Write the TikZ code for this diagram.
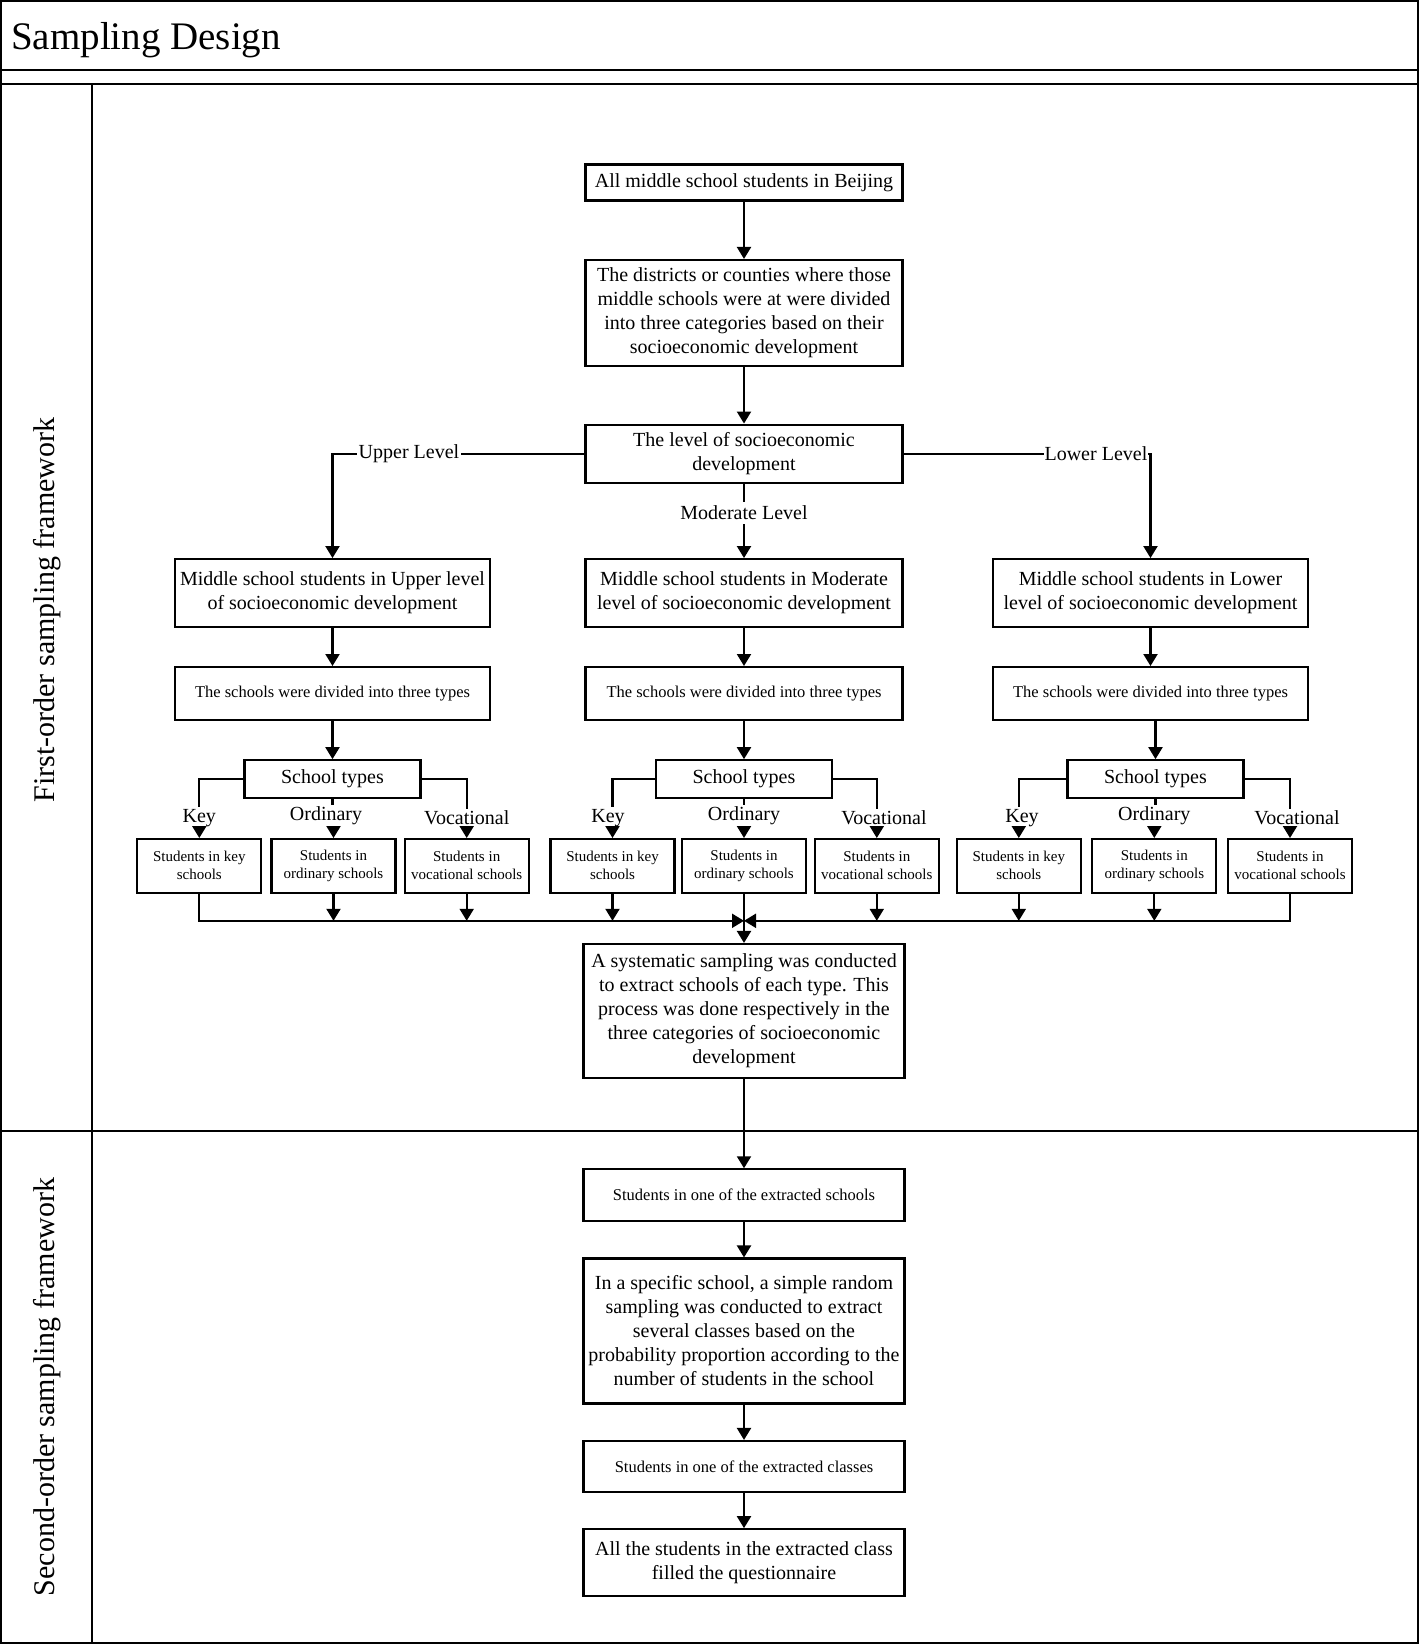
\documentclass[tikz,border=0pt]{standalone}
\usepackage{fontspec}
\setmainfont{Liberation Serif}
\usetikzlibrary{arrows.meta}
\begin{document}
\begin{tikzpicture}[x=1pt,y=-1pt,
  every node/.style={inner sep=0pt},
  box/.style={draw, line width=2.1pt, align=center, font=\fontsize{20}{24}\selectfont},
  sbox/.style={box, minimum width=124pt, minimum height=53.5pt, font=\fontsize{15}{18}\selectfont},
  mbox/.style={box, font=\fontsize{16.5}{20}\selectfont},
  lab/.style={font=\fontsize{20}{24}\selectfont, fill=white, inner sep=2pt},
  tlab/.style={font=\fontsize{20}{24}\selectfont, inner sep=2pt},
  ln/.style={line width=2.1pt},
  arr/.style={ln, -{Triangle[length=12pt,width=14pt]}},
  frame/.style={line width=2.2pt}
]
\useasboundingbox (0,0) rectangle (1419,1644);
% frame
\draw[frame] (1.1,1.1) rectangle (1417.9,1642.9);
\draw[frame] (0,70.3) -- (1419,70.3);
\draw[frame] (0,83.9) -- (1419,83.9);
\draw[frame] (92.3,83.9) -- (92.3,1644);
\draw[frame] (0,1130.6) -- (1419,1130.6);
\node[anchor=base west, font=\fontsize{39}{46}\selectfont] (title) at (11,49) {Sampling Design};
\node[rotate=90, font=\fontsize{30}{36}\selectfont] (L1) at (47,610) {First-order sampling framework};
\node[rotate=90, font=\fontsize{30}{36}\selectfont] (L2) at (47,1387) {Second-order sampling framework};

% main column
\node[box, minimum width=317pt, minimum height=36pt] (b1) at (744,182.5) {All middle school students in Beijing};
\node[box, minimum width=317pt, minimum height=106pt] (b2) at (744,313) {The districts or counties where those\\middle schools were at were divided\\into three categories based on their\\socioeconomic development};
\node[box, minimum width=317pt, minimum height=58pt] (b3) at (744,453.6) {The level of socioeconomic\\development};

% level boxes
\node[box, minimum width=315pt, minimum height=68pt] (up) at (332.5,593.1) {Middle school students in Upper level\\of socioeconomic development};
\node[box, minimum width=317pt, minimum height=68pt] (mid) at (744,593.1) {Middle school students in Moderate\\level of socioeconomic development};
\node[box, minimum width=315pt, minimum height=68pt] (low) at (1150.5,593.1) {Middle school students in Lower\\level of socioeconomic development};

% divided boxes
\node[mbox, minimum width=315pt, minimum height=52.5pt] (d1) at (332.5,693.3) {The schools were divided into three types};
\node[mbox, minimum width=317pt, minimum height=52.5pt] (d2) at (744,693.3) {The schools were divided into three types};
\node[mbox, minimum width=315pt, minimum height=52.5pt] (d3) at (1150.5,693.3) {The schools were divided into three types};

% school types
\node[box, minimum width=176pt, minimum height=38pt] (t1) at (332.5,779.2) {School types};
\node[box, minimum width=176pt, minimum height=38pt] (t2) at (744,779.2) {School types};
\node[box, minimum width=176pt, minimum height=38pt] (t3) at (1155.5,779.2) {School types};

% student boxes
\node[sbox] (s11) at (199.3,865.8) {Students in key\\schools};
\node[sbox] (s12) at (333.5,865.8) {Students in\\ordinary schools};
\node[sbox] (s13) at (466.7,865.8) {Students in\\vocational schools};
\node[sbox] (s21) at (612.5,865.8) {Students in key\\schools};
\node[sbox] (s22) at (744,865.8) {Students in\\ordinary schools};
\node[sbox] (s23) at (876.8,865.8) {Students in\\vocational schools};
\node[sbox] (s31) at (1018.8,865.8) {Students in key\\schools};
\node[sbox] (s32) at (1154.3,865.8) {Students in\\ordinary schools};
\node[sbox] (s33) at (1290,865.8) {Students in\\vocational schools};

% type labels
\node[tlab] (k1) at (199.3,818) {Key};
\node[tlab] (o1) at (326,816) {Ordinary};
\node[tlab] (v1) at (466.7,818) {Vocational};
\node[tlab] (k2) at (608,818) {Key};
\node[tlab] (o2) at (744,816) {Ordinary};
\node[tlab] (v2) at (884,818) {Vocational};
\node[tlab] (k3) at (1022,818) {Key};
\node[tlab] (o3) at (1154.3,816) {Ordinary};
\node[tlab] (v3) at (1297,818) {Vocational};

% lower part
\node[box, minimum width=321pt, minimum height=134pt] (sys) at (744,1011) {A systematic sampling was conducted\\to extract schools of each type. This\\process was done respectively in the\\three categories of socioeconomic\\development};
\node[mbox, minimum width=321pt, minimum height=51.4pt] (sch) at (744,1195) {Students in one of the extracted schools};
\node[box, minimum width=321pt, minimum height=145pt] (spec) at (744,1331) {In a specific school, a simple random\\sampling was conducted to extract\\several classes based on the\\probability proportion according to the\\number of students in the school};
\node[mbox, minimum width=321pt, minimum height=51.4pt] (cls) at (744,1466.7) {Students in one of the extracted classes};
\node[box, minimum width=321pt, minimum height=67pt] (fin) at (744,1562.7) {All the students in the extracted class\\filled the questionnaire};

% connectors top
\draw[arr] (b1) -- (b2);
\draw[arr] (b2) -- (b3);
\draw[arr] (b3.west) -| (up.north);
\draw[arr] (b3.east) -| (low.north);
\draw[arr] (b3.south) -- (mid.north);
\node[lab] (ul) at (409,453.6) {Upper Level};
\node[lab, anchor=east, inner sep=1pt] (ll) at (1148.5,453.6) {Lower Level};
\node[lab, inner sep=4pt] (ml) at (744,513) {Moderate Level};

\draw[arr] (up) -- (d1);
\draw[arr] (mid) -- (d2);
\draw[arr] (low) -- (d3);
\draw[arr] (d1) -- (t1);
\draw[arr] (d2) -- (t2);
\draw[arr] (d3.south -| t3.north) -- (t3.north);

% branches
\foreach \t/\k/\o/\v/\a/\b/\c in {t1/k1/o1/v1/s11/s12/s13, t2/k2/o2/v2/s21/s22/s23, t3/k3/o3/v3/s31/s32/s33}{
  \draw[ln] (\t.west) -| (\a.north |- \k.north);
  \draw[ln] (\t.east) -| (\c.north |- \v.north);
  \draw[ln] (\t.south) -- (\t.south |- \o.north);
  \draw[arr] (\a.north |- \k.south) -- (\a.north);
  \draw[arr] (\b.north |- \o.south) -- (\b.north);
  \draw[arr] (\c.north |- \v.south) -- (\c.north);
}

% merge
\coordinate (m) at (744,920.8);
\draw[arr] (s11.south) |- (m);
\draw[arr] (s33.south) |- (m);
\foreach \s in {s12,s13,s21,s23,s31,s32}{
  \draw[arr] (\s.south) -- (\s.south |- m);
}
\draw[arr] (s22.south) -- (sys.north);

% lower connectors
\draw[arr] (sys) -- (sch);
\draw[arr] (sch) -- (spec);
\draw[arr] (spec) -- (cls);
\draw[arr] (cls) -- (fin);
\end{tikzpicture}
\end{document}
